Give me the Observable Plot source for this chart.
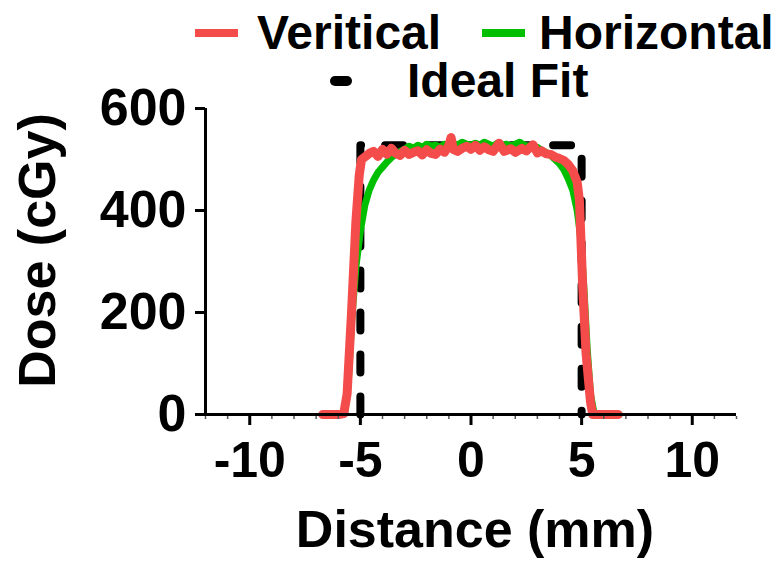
<!DOCTYPE html>
<html>
<head>
<meta charset="utf-8">
<script src="https://cdn.jsdelivr.net/npm/d3@7"></script>
<script src="https://cdn.jsdelivr.net/npm/@observablehq/plot@0.6"></script>
<style>
  html, body { margin: 0; padding: 0; background: #fff; }
  #wrap { position: relative; width: 776px; height: 562px; overflow: hidden; font-family: "Liberation Sans", Arial, sans-serif; }
  #legend { position: absolute; left: 0; top: 0; width: 776px; height: 100px; }
  .item { position: absolute; display: flex; align-items: center; font-weight: bold; font-size: 48px; line-height: 48px; color: #000; white-space: nowrap; }
  .sw { display: inline-block; }
</style>
</head>
<body>
<div id="wrap">
  <div id="chart"></div>
  <div id="legend"></div>
</div>
<script>
// ---- data ----
const seriesNames = ["Veritical", "Horizontal", "Ideal Fit"];
const seriesColors = ["#f44b4b", "#00bf00", "#000000"];

const vertX = [-6.7, -6.0, -5.75, -5.6, -5.4, -5.2, -5.05, -4.95, -4.8, -4.6, -4.4, -4.2, -4.0, -3.8, -3.6, -3.4, -3.2, -3.0, -2.8, -2.6, -2.4, -2.2, -2.0, -1.8, -1.6, -1.4, -1.2, -1.0, -0.9, -0.8, -0.6, -0.4, -0.2, 0.0, 0.2, 0.4, 0.6, 0.8, 1.0, 1.27, 1.5, 1.8, 2.0, 2.3, 2.5, 2.8, 3.0, 3.2, 3.4, 3.6, 3.8, 4.0, 4.2, 4.4, 4.6, 4.8, 4.9, 5.05, 5.2, 5.4, 5.5, 6.65];
const vertDose = [0, 0, 2, 40, 200, 380, 470, 500, 505, 512, 516, 506, 520, 510, 522, 512, 508, 518, 510, 514, 517, 509, 519, 512, 510, 520, 514, 528, 543, 520, 516, 522, 526, 520, 528, 518, 525, 519, 516, 532, 516, 521, 514, 522, 517, 529, 513, 517, 511, 510, 505, 502, 498, 490, 478, 455, 420, 250, 120, 25, 0, 0];

const horX = [-6.7, -5.9, -5.7, -5.55, -5.4, -5.2, -5.0, -4.8, -4.6, -4.4, -4.2, -4.0, -3.8, -3.6, -3.4, -3.2, -3.0, -2.8, -2.6, -2.4, -2.2, -2.0, -1.8, -1.6, -1.4, -1.2, -1.0, -0.8, -0.6, -0.4, -0.2, 0.0, 0.2, 0.4, 0.6, 0.8, 1.0, 1.2, 1.4, 1.6, 1.8, 2.0, 2.2, 2.4, 2.6, 2.8, 3.0, 3.2, 3.4, 3.6, 3.8, 4.0, 4.2, 4.4, 4.6, 4.8, 4.95, 5.1, 5.25, 5.4, 5.55, 5.7, 6.7];
const horDose = [0, 0, 5, 60, 180, 290, 360, 410, 440, 460, 475, 485, 495, 504, 510, 516, 520, 526, 522, 528, 524, 530, 526, 528, 524, 530, 526, 532, 528, 534, 530, 528, 532, 528, 534, 530, 526, 532, 528, 530, 526, 530, 534, 528, 526, 522, 524, 518, 514, 508, 500, 492, 480, 462, 440, 400, 350, 250, 130, 40, 5, 0, 0];

const fitX = [-5, -5, 5, 5];
const fitDose = [0, 528, 528, 0];

const xTicks = [-10, -5, 0, 5, 10];
const xMinorTicks = [-12, -11, -9, -8, -7, -6, -4, -3, -2, -1, 1, 2, 3, 4, 6, 7, 8, 9, 11, 12];
const yTicks = [0, 200, 400, 600];
const xLabel = "Distance (mm)";
const yLabel = "Dose (cGy)";

// ---- build ----
const vert = vertX.map((x, i) => ({x, y: vertDose[i]}));
const hor = horX.map((x, i) => ({x, y: horDose[i]}));
const fit = fitX.map((x, i) => ({x, y: fitDose[i]}));

const font = "'Liberation Sans', Arial, sans-serif";

const chart = Plot.plot({
  width: 776,
  height: 562,
  marginTop: 108,
  marginBottom: 148,
  marginLeft: 205,
  marginRight: 40,
  style: {fontFamily: font, background: "transparent", overflow: "visible"},
  x: {domain: [-12, 12], axis: null},
  y: {domain: [0, 600], axis: null},
  marks: [
    Plot.line(fit, {x: "x", y: "y", stroke: seriesColors[2], strokeWidth: 8, strokeDasharray: "18,24", strokeLinecap: "round", strokeLinejoin: "round"}),
    Plot.line(hor, {x: "x", y: "y", stroke: seriesColors[1], strokeWidth: 7, strokeLinejoin: "round"}),
    Plot.line(vert, {x: "x", y: "y", stroke: seriesColors[0], strokeWidth: 9, strokeLinejoin: "round"}),
    // axes
    Plot.ruleY([0], {stroke: "#000", strokeWidth: 3}),
    Plot.ruleX([-12], {stroke: "#000", strokeWidth: 3, insetBottom: -1.5}),
    Plot.ruleY(yTicks, {x1: -12, x2: -12, insetLeft: -10, stroke: "#000", strokeWidth: 3}),
    Plot.ruleX(xTicks, {y1: 0, y2: 0, insetBottom: -11, stroke: "#000", strokeWidth: 3}),
    Plot.ruleX(xMinorTicks, {y1: 0, y2: 0, insetTop: 2, insetBottom: -5, stroke: "#555", strokeWidth: 1.5}),
    Plot.text(yTicks, {x: -12, y: d => d, text: d => String(d), textAnchor: "end", dx: -19, fontSize: 52, fontWeight: "bold", fill: "#000"}),
    Plot.text(xTicks, {x: d => d, y: 0, text: d => String(d), dy: 46, fontSize: 50, fontWeight: "bold", fill: "#000"}),
    Plot.text([xLabel], {x: 0, y: 0, text: d => d, dx: 4, dy: 116, fontSize: 52, fontWeight: "bold", fill: "#000"}),
    Plot.text([yLabel], {x: -12, y: 300, text: d => d, rotate: -90, dx: -167, dy: -11, fontSize: 52, fontWeight: "bold", fill: "#000"})
  ]
});
document.getElementById("chart").appendChild(chart);

// ---- legend (HTML) ----
const legend = document.getElementById("legend");
const legendLayout = [
  {left: 195, top: 9, sw: {w: 43, h: 8, r: 0}, gap: 19},
  {left: 482, top: 9, sw: {w: 43, h: 8, r: 0}, gap: 14},
  {left: 330, top: 57, sw: {w: 22, h: 10, r: 5}, gap: 55}
];
seriesNames.forEach((name, i) => {
  const L = legendLayout[i];
  const item = document.createElement("div");
  item.className = "item";
  item.style.left = L.left + "px";
  item.style.top = L.top + "px";
  const sw = document.createElement("span");
  sw.className = "sw";
  sw.style.width = L.sw.w + "px";
  sw.style.height = L.sw.h + "px";
  sw.style.borderRadius = L.sw.r + "px";
  sw.style.background = seriesColors[i];
  sw.style.marginRight = L.gap + "px";
  const t = document.createElement("span");
  t.textContent = name;
  item.appendChild(sw);
  item.appendChild(t);
  legend.appendChild(item);
});
</script>
</body>
</html>
